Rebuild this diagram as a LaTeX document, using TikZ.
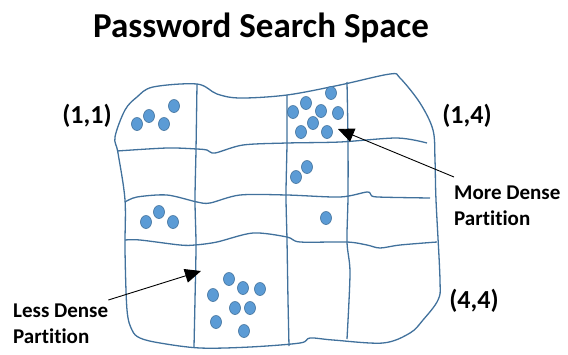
\documentclass[tikz,border=0pt]{standalone}
\usepackage{fontspec}
\setmainfont{Carlito}[Ligatures=NoCommon]
\usetikzlibrary{arrows.meta}
\definecolor{gridblue}{HTML}{41719C}
\definecolor{dotblue}{HTML}{5B9BD5}

\begin{document}
\begin{tikzpicture}[x=1pt, y=-1pt,
    grid/.style={gridblue, line width=1.3pt, line join=round},
    pw/.style={fill=dotblue, draw=gridblue, line width=0.6pt},
    title/.style={font=\bfseries\fontsize{35}{40}\selectfont, inner sep=0pt},
    cell/.style={font=\bfseries\fontsize{26}{30}\selectfont, inner sep=0pt},
    note/.style={font=\bfseries\fontsize{21}{26}\selectfont, align=left, inner sep=0pt},
    ptr/.style={-{Triangle[length=16pt,width=14pt]}, line width=0.9pt}]
\useasboundingbox (0,0) rectangle (568,354);

% the search space, drawn by hand
\draw[grid] plot[smooth cycle, tension=0.55] coordinates {
  (197,84) (217,94) (240,98) (287,95) (340,85) (390,74) (400,78) (420,103)
  (433,130) (435,160) (436,200) (440,280) (438,300) (423,320) (410,333)
  (383,343) (333,340) (310,338) (300,343) (250,347) (200,348) (160,343)
  (140,338) (132,330) (127,310) (125,250) (125,200) (118,153) (115,137)
  (125,110) (137,97) (153,87)};
\draw[grid] plot[smooth] coordinates {(197,84) (196,150) (195,200) (196,245) (195,300) (194,347)};
\draw[grid] plot[smooth] coordinates {(287,95) (287,143) (286,195) (287,240) (288,300) (289,346)};
\draw[grid] plot[smooth] coordinates {(347,82) (348,140) (348,197) (347,242) (350,273) (347,339)};
\draw[grid] plot[smooth, tension=0.5] coordinates {(117,151) (167,148) (197,149) (207,150) (215,153)
  (243,145) (287,143) (340,142) (397,138) (427,143)};
\draw[grid] plot[smooth, tension=0.5] coordinates {(125,202) (137,197) (167,195) (197,202) (210,203)
  (240,195) (287,195) (340,197) (367,192) (371,195) (378,197) (430,198)};
\draw[grid] plot[smooth, tension=0.5] coordinates {(125,240) (140,240) (180,245) (195,245) (217,242)
  (253,233) (287,237) (300,242) (347,242) (367,245) (380,248) (400,245) (437,242)};

% passwords
\foreach \px/\py in {137/124, 149/116, 164/124, 174/106,
    331/93, 306/103, 293/112, 321/111, 338/113, 313/123, 301/132, 327/132,
    307/167, 296/177, 326/218,
    146/222, 159/212, 173/222,
    229/279, 243/288, 260/289, 213/295, 235/308, 250/308, 216/322, 244/331}
  \draw[pw] (\px,\py) ellipse [x radius=5.5pt, y radius=6.5pt];

\node[title, anchor=base] (ttl) at (261,37) {Password Search Space};
\node[cell, anchor=base] (c11) at (87,123) {(1,1)};
\node[cell, anchor=base] (c14) at (467,123) {(1,4)};
\node[cell, anchor=base] (c44) at (474,308) {(4,4)};

\node[note, anchor=north west] (more) at (454,186) {More Dense\\Partition};
\node[note, anchor=north west] (less) at (13,304) {Less Dense\\Partition};

\coordinate (densetip) at (338,129);
\coordinate (sparsetip) at (201,271);
\draw[ptr] ([yshift=9pt]more.north west) -- (densetip);
\draw[ptr] ([yshift=4pt]less.north east) -- (sparsetip);
\end{tikzpicture}
\end{document}
